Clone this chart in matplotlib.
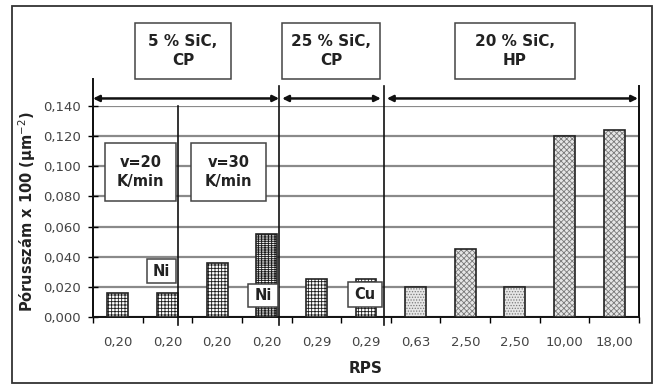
import matplotlib
matplotlib.use("Agg")
import matplotlib.pyplot as plt
from matplotlib.patches import Rectangle
from matplotlib.ticker import FuncFormatter

# RPS category labels and pore counts (x100, per µm²)
rps_labels = ["0,20", "0,20", "0,20", "0,20", "0,29", "0,29",
              "0,63", "2,50", "2,50", "10,00", "18,00"]
pore_counts = [0.016, 0.016, 0.036, 0.055, 0.025, 0.025,
               0.020, 0.045, 0.020, 0.120, 0.124]
bar_hatches = ["+++++", "+++++", "+++++", "----+++++", "+++++", "+++++",
               "......", "xxxxxx", "......", "xxxxxx", "xxxxxx"]

group_labels = ["5 % SiC,\nCP", "25 % SiC,\nCP", "20 % SiC,\nHP"]
rate_labels = ["v=20\nK/min", "v=30\nK/min"]
element_labels = ["Ni", "Ni", "Cu"]

W, H = 655, 385
plt.rcParams["font.family"] = ["DejaVu Sans"]
plt.rcParams["hatch.linewidth"] = 0.6

fig = plt.figure(figsize=(W / 100, H / 100), dpi=100)
ax = fig.add_axes([93 / W, 1 - 317 / H, (639 - 93) / W, (317 - 106) / H])

xs = list(range(len(pore_counts)))
for x, v, h in zip(xs, pore_counts, bar_hatches):
    if h.startswith(".") or h.startswith("x"):
        fc, hc = ("#e6e6e6", "#7a7a7a")
    else:
        fc, hc = ("white", "#1a1a1a")
    # hatched fill, then a dark outline on top
    ax.bar(x, v, width=0.42, color=fc, edgecolor=hc, hatch=h,
           linewidth=0, zorder=3)
    ax.bar(x, v, width=0.42, fill=False, edgecolor="#222222",
           linewidth=1.2, zorder=3.5)

ax.set_xlim(-0.5, len(xs) - 0.5)
ax.set_ylim(0, 0.14)
ax.set_yticks([i * 0.02 for i in range(8)])
ax.yaxis.set_major_formatter(FuncFormatter(lambda v, p: f"{v:.3f}".replace(".", ",")))
ax.yaxis.grid(True, color="#8a8a8a", linewidth=1.6, zorder=0)
ax.set_axisbelow(True)

ax.set_xticks([i + 0.5 for i in range(-1, len(xs))])
ax.set_xticklabels([])
ax.set_xticks(xs, minor=True)
ax.set_xticklabels(rps_labels, minor=True)
ax.tick_params(axis="x", which="minor", length=0, pad=14, labelsize=9.5,
               labelcolor="#444444")
ax.tick_params(axis="x", which="major", length=4, width=1, direction="out")
ax.tick_params(axis="y", direction="inout", length=7, width=1, pad=5,
               labelsize=9.5, labelcolor="#444444")

ax.spines["top"].set_visible(False)
for s in ["left", "right", "bottom"]:
    ax.spines[s].set_linewidth(1.4)
    ax.spines[s].set_color("#111111")

ax.set_xlabel("RPS", fontsize=11, fontweight="bold", labelpad=8,
              color="#222222")
ax.set_ylabel("Pórusszám x 100 (µm$^{-2}$)", fontsize=10.5, fontweight="bold",
              labelpad=4, color="#222222")

# spine extensions and group separator lines
ax.plot([-0.5, -0.5], [0, 0.158], color="#111111", lw=1.4, clip_on=False, zorder=4)
ax.plot([10.5, 10.5], [0, 0.153], color="#111111", lw=1.4, clip_on=False, zorder=4)
for xv, top in [(1.21, 0.14), (3.25, 0.153), (5.36, 0.153)]:
    ax.plot([xv, xv], [-0.005, top], color="#111111", lw=1.2, clip_on=False, zorder=4)

# group span arrows
for x0, x1 in [(-0.5, 3.25), (3.31, 5.30), (5.42, 10.48)]:
    ax.annotate("", xy=(x0, 0.145), xytext=(x1, 0.145),
                arrowprops=dict(arrowstyle="<|-|>", color="#111111", lw=1.8,
                                mutation_scale=9, shrinkA=0, shrinkB=0),
                annotation_clip=False)


def px_box(x0, y0, x1, y1, text, fs=10.5):
    fx0, fx1 = x0 / W, x1 / W
    fy0, fy1 = 1 - y1 / H, 1 - y0 / H
    fig.patches.append(Rectangle((fx0, fy0), fx1 - fx0, fy1 - fy0,
                                 transform=fig.transFigure, facecolor="white",
                                 edgecolor="#444444", lw=1.1, zorder=6))
    fig.text((fx0 + fx1) / 2, (fy0 + fy1) / 2, text, ha="center", va="center",
             fontsize=fs, fontweight="bold", linespacing=1.4, zorder=7,
             color="#222222")


for (x0, x1), t in zip([(135, 231), (282, 380), (455, 575)], group_labels):
    px_box(x0, 23, x1, 79, t, fs=11)
for (x0, x1), t in zip([(105, 176), (191, 266)], rate_labels):
    px_box(x0, 143, x1, 201, t)
for (x0, y0, x1, y1), t in zip([(147, 259, 176, 283), (248, 284, 278, 307),
                                (348, 282, 382, 307)], element_labels):
    px_box(x0, y0, x1, y1, t)

# outer frame
fig.patches.append(Rectangle((12 / W, 1 - 383 / H), 640 / W, 377 / H,
                             transform=fig.transFigure, fill=False,
                             edgecolor="#333333", lw=1.3, zorder=1))

fig.savefig("out.png", dpi=100)
